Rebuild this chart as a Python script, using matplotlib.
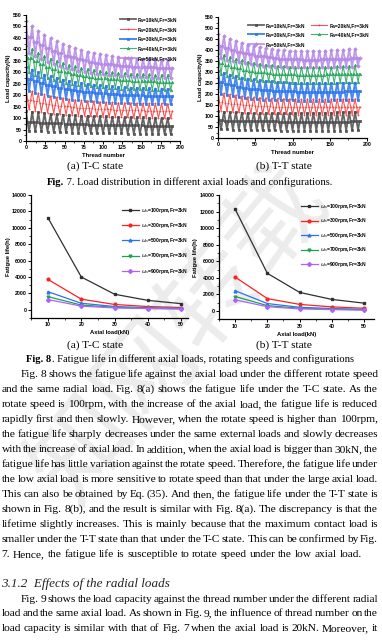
import numpy as np
import matplotlib

matplotlib.use("Agg")
import matplotlib.pyplot as plt
from matplotlib.ticker import MultipleLocator, AutoMinorLocator

W, H = 382, 640
SANS = "Liberation Sans"
SERIF = "Liberation Serif"

# ---------------- Fig. 7 data: load per ball, one cycle = high / mid / low ----------------
CYCLES = list(range(24))          # one oscillation every 8 threads
LOAD_LABELS = ["Fa=10kN,Fr=3kN", "Fa=20kN,Fr=3kN", "Fa=30kN,Fr=3kN",
               "Fa=40kN,Fr=3kN", "Fa=50kN,Fr=3kN"]

tc_high = [
    [132, 128, 125, 122, 119, 117, 115, 113, 112, 111, 110, 109, 108, 107, 106, 105, 104, 104, 103, 103, 102, 102, 101, 101],
    [228, 218, 210, 203, 197, 192, 188, 184, 181, 178, 176, 174, 172, 170, 169, 168, 167, 166, 166, 165, 165, 164, 164, 163],
    [325, 312, 300, 290, 282, 275, 268, 262, 257, 253, 249, 246, 243, 240, 238, 236, 234, 233, 232, 231, 230, 229, 229, 228],
    [420, 402, 386, 372, 360, 350, 341, 333, 326, 320, 315, 311, 307, 303, 300, 298, 296, 294, 293, 292, 291, 290, 290, 289],
    [522, 500, 480, 463, 448, 435, 424, 414, 405, 397, 390, 384, 379, 374, 370, 367, 364, 362, 360, 358, 357, 356, 355, 354],
]
tc_mid = [
    [82, 81, 80, 79, 78, 77, 76, 75, 74, 73, 72, 72, 71, 70, 70, 69, 69, 68, 68, 67, 67, 66, 66, 65],
    [180, 173, 167, 162, 158, 154, 151, 148, 146, 144, 142, 140, 139, 138, 137, 136, 135, 134, 134, 133, 133, 132, 132, 131],
    [272, 262, 253, 245, 238, 232, 227, 223, 219, 216, 213, 210, 208, 206, 204, 202, 201, 200, 199, 198, 197, 196, 196, 195],
    [362, 348, 336, 325, 315, 307, 300, 294, 289, 284, 280, 277, 274, 271, 269, 267, 265, 264, 262, 261, 260, 259, 258, 257],
    [452, 434, 418, 404, 392, 382, 373, 365, 358, 352, 347, 342, 338, 335, 332, 329, 327, 325, 323, 322, 321, 320, 319, 318],
]
tc_low = [
    [45, 43, 42, 41, 40, 39, 38, 37, 36, 36, 35, 35, 34, 34, 33, 33, 32, 32, 32, 31, 31, 31, 30, 30],
    [138, 132, 127, 123, 120, 117, 115, 113, 111, 110, 108, 107, 106, 105, 104, 103, 103, 102, 102, 101, 101, 100, 100, 100],
    [218, 210, 203, 197, 192, 188, 184, 180, 177, 175, 173, 171, 169, 168, 166, 165, 164, 163, 162, 162, 161, 161, 160, 160],
    [300, 290, 281, 273, 266, 260, 255, 250, 246, 243, 240, 237, 235, 233, 231, 229, 228, 227, 226, 225, 224, 223, 222, 222],
    [385, 370, 357, 346, 336, 327, 320, 313, 307, 302, 298, 294, 291, 288, 286, 284, 282, 280, 279, 278, 277, 276, 275, 275],
]

tt_high = [
    [121, 119, 117, 116, 115, 114, 113, 113, 112, 112, 112, 112, 112, 112, 113, 113, 114, 114, 115, 115, 116, 117, 118, 118],
    [210, 204, 199, 195, 191, 188, 186, 184, 182, 181, 180, 179, 178, 178, 177, 177, 177, 177, 177, 178, 178, 178, 179, 179],
    [305, 296, 288, 281, 275, 270, 266, 262, 259, 257, 255, 253, 252, 251, 250, 250, 250, 250, 250, 250, 251, 251, 252, 252],
    [388, 377, 368, 360, 353, 347, 342, 338, 334, 331, 328, 326, 324, 323, 322, 322, 322, 323, 324, 325, 326, 327, 329, 330],
    [475, 463, 452, 442, 433, 425, 418, 412, 407, 403, 400, 398, 396, 395, 395, 395, 395, 396, 397, 398, 400, 402, 404, 405],
]
tt_mid = [
    [80, 79, 79, 78, 78, 77, 77, 76, 76, 76, 75, 75, 75, 75, 75, 75, 75, 75, 75, 75, 75, 75, 76, 76],
    [165, 160, 156, 153, 150, 148, 146, 145, 144, 143, 142, 141, 141, 140, 140, 140, 140, 140, 140, 140, 141, 141, 141, 141],
    [255, 247, 240, 234, 229, 225, 222, 219, 217, 215, 214, 213, 212, 211, 211, 210, 210, 210, 210, 211, 211, 212, 212, 213],
    [340, 331, 323, 316, 310, 305, 301, 298, 295, 293, 291, 290, 289, 288, 288, 288, 288, 288, 289, 289, 290, 291, 292, 293],
    [420, 410, 401, 393, 386, 380, 375, 371, 367, 364, 361, 359, 358, 357, 356, 356, 356, 357, 358, 359, 360, 361, 363, 364],
]
tt_low = [
    [40, 39, 38, 37, 37, 36, 36, 35, 35, 35, 34, 34, 34, 34, 34, 34, 34, 34, 34, 34, 34, 34, 35, 35],
    [125, 121, 118, 116, 114, 112, 111, 110, 109, 108, 107, 107, 106, 106, 106, 105, 105, 105, 105, 105, 105, 106, 106, 106],
    [200, 194, 189, 185, 182, 179, 177, 175, 174, 173, 172, 171, 171, 170, 170, 170, 170, 170, 170, 171, 171, 171, 172, 172],
    [290, 283, 277, 272, 268, 264, 261, 259, 257, 255, 254, 253, 252, 251, 251, 251, 251, 251, 252, 252, 253, 253, 254, 255],
    [362, 355, 349, 344, 339, 335, 332, 329, 327, 325, 324, 323, 322, 321, 321, 321, 321, 321, 322, 322, 323, 324, 325, 326],
]

# ---------------- Fig. 8 data ----------------
AXIAL = [10, 20, 30, 40, 50]
SPEED_LABELS = [r"$\omega_s$=100rpm,Fr=3kN", r"$\omega_s$=300rpm,Fr=3kN",
                r"$\omega_s$=500rpm,Fr=3kN", r"$\omega_s$=700rpm,Fr=3kN",
                r"$\omega_s$=900rpm,Fr=3kN"]
life_tc = [
    [11200, 4000, 1900, 1150, 750],
    [3700, 1300, 650, 400, 280],
    [2200, 800, 400, 250, 180],
    [1600, 580, 300, 180, 130],
    [1250, 450, 230, 150, 100],
]
life_tt = [
    [12300, 4550, 2250, 1400, 950],
    [4100, 1500, 800, 500, 330],
    [2450, 900, 450, 300, 200],
    [1750, 650, 330, 220, 150],
    [1350, 520, 260, 170, 110],
]

COLORS7 = ["#4a4a4a", "#ff3535", "#2a74ec", "#24a35c", "#b487e6"]
LW7 = [1.3, 0.8, 1.4, 0.8, 1.3]
MK7 = ["s", "+", "s", "^", "D"]
COLORS8 = ["#303030", "#ff2020", "#2a74f0", "#20a050", "#b060ff"]
MK8 = ["s", "o", "^", "v", "D"]

TEXT_LINES = [
    "Fig. 8 shows the fatigue life against the axial load under the different rotate speed",
    "and the same radial load. Fig. 8(a) shows the fatigue life under the T-C state. As the",
    "rotate speed is 100rpm, with the increase of the axial load, the fatigue life is reduced",
    "rapidly first and then slowly. However, when the rotate speed is higher than 100rpm,",
    "the fatigue life sharply decreases under the same external loads and slowly decreases",
    "with the increase of axial load. In addition, when the axial load is bigger than 30kN, the",
    "fatigue life has little variation against the rotate speed. Therefore, the fatigue life under",
    "the low axial load is more sensitive to rotate speed than that under the large axial load.",
    "This can also be obtained by Eq. (35). And then, the fatigue life under the T-T state is",
    "shown in Fig. 8(b), and the result is similar with Fig. 8(a). The discrepancy is that the",
    "lifetime slightly increases. This is mainly because that the maximum contact load is",
    "smaller under the T-T state than that under the T-C state. This can be confirmed by Fig.",
    "7. Hence, the fatigue life is susceptible to rotate speed under the low axial load.",
]
HEADING = "3.1.2  Effects of the radial loads"
TEXT_LINES2 = [
    "Fig. 9 shows the load capacity against the thread number under the different radial",
    "load and the same axial load. As shown in Fig. 9, the influence of thread number on the",
    "load capacity is similar with that of Fig. 7 when the axial load is 20kN. Moreover, it",
]


def px_axes(fig, l, t, r, b):
    return fig.add_axes([l / W, 1 - b / H, (r - l) / W, (b - t) / H], facecolor="none")


def style(ax):
    for s in ("top", "right"):
        ax.spines[s].set_visible(False)
    for s in ("left", "bottom"):
        ax.spines[s].set_linewidth(0.9)
    ax.tick_params(which="major", direction="out", length=2.2, width=0.7,
                   labelsize=3.8, pad=1)
    ax.tick_params(which="minor", direction="out", length=1.2, width=0.5)
    for lab in ax.get_xticklabels() + ax.get_yticklabels():
        lab.set_fontweight("bold")
        lab.set_family(SANS)


def zigzag(hi, mid, lo):
    xs, ys = [], []
    for k in CYCLES:
        xs += [8 * k, 8 * k + 2, 8 * k + 4, 8 * k + 6]
        ys += [hi[k], mid[k], lo[k], mid[k]]
    return xs, ys


def fig7_panel(ax, hi_all, mid_all, lo_all, xstep):
    for i in range(5):
        xs, ys = zigzag(hi_all[i], mid_all[i], lo_all[i])
        ax.plot(xs, ys, color=COLORS7[i], lw=LW7[i], marker=MK7[i], ms=1.8,
                mew=0.6, alpha=0.85, label=LOAD_LABELS[i])
    ax.set_xlim(0, 200)
    ax.set_ylim(0, 550)
    ax.xaxis.set_major_locator(MultipleLocator(xstep))
    ax.yaxis.set_major_locator(MultipleLocator(50))
    ax.xaxis.set_minor_locator(AutoMinorLocator(2))
    ax.yaxis.set_minor_locator(AutoMinorLocator(2))
    ax.set_ylabel("Load capacity(N)", fontsize=4.2, fontweight="bold",
                  family=SANS, labelpad=1)
    ax.set_xlabel("Thread number", fontsize=4.2, fontweight="bold",
                  family=SANS, labelpad=2)
    style(ax)


def fig8_panel(ax, data, xlim):
    for i in range(5):
        ax.plot(AXIAL, data[i], color=COLORS8[i], lw=0.9, marker=MK8[i],
                ms=2.0, label=SPEED_LABELS[i])
    ax.set_xlim(*xlim)
    ax.set_ylim(-1000, 14000)
    ax.set_xticks(AXIAL)
    ax.set_yticks(range(0, 14001, 2000))
    ax.xaxis.set_minor_locator(AutoMinorLocator(2))
    ax.yaxis.set_minor_locator(AutoMinorLocator(2))
    ax.set_ylabel("Fatigue life(h)", fontsize=4.2, fontweight="bold",
                  family=SANS, labelpad=1)
    ax.set_xlabel("Axial load(kN)", fontsize=4.2, fontweight="bold",
                  family=SANS, labelpad=2)
    style(ax)


def word_widths(ax, rend, words, fs):
    ws = []
    for w in words:
        t = ax.text(0, 0, w, fontsize=fs, family=SERIF)
        ws.append(t.get_window_extent(rend).width)
        t.remove()
    return ws


def put_line(ax, rend, line, y, x0, x1, fs, justify=True):
    words = line.split(" ")
    ws = word_widths(ax, rend, words, fs)
    gap = (x1 - x0 - sum(ws)) / (len(words) - 1) if justify else fs * 0.34
    x = x0
    for w, wd in zip(words, ws):
        ax.text(x, y, w, fontsize=fs, family=SERIF, va="baseline", color="#000000")
        x += wd + gap


def caption(ax, rend, bold, rest, y, cx, fs):
    a = ax.text(0, y, bold, fontsize=fs, family=SERIF, fontweight="bold",
                va="baseline", color="#000000")
    b = ax.text(0, y, rest, fontsize=fs, family=SERIF, va="baseline",
                color="#000000")
    wa = a.get_window_extent(rend).width if bold else 0
    wb = b.get_window_extent(rend).width
    x0 = cx - (wa + wb) / 2
    a.set_x(x0)
    b.set_x(x0 + wa)


def build():
    fig = plt.figure(figsize=(W / 100, H / 100), dpi=100, facecolor="white")
    bg = fig.add_axes([0, 0, 1, 1])
    bg.set_xlim(0, W)
    bg.set_ylim(H, 0)
    bg.axis("off")
    rend = fig.canvas.get_renderer()

    # faint watermark behind everything
    bg.text(180, 335, "知网转载", fontsize=72, rotation=50, ha="center",
            va="center", color="#d6d6d6", alpha=0.45,
            family=["Noto Sans CJK SC", "DejaVu Sans"])

    # ---------------- Fig. 7 ----------------
    a7 = px_axes(fig, 26, 15, 180, 141)
    fig7_panel(a7, tc_high, tc_mid, tc_low, 25)
    a7.legend(loc="upper left", bbox_to_anchor=(0.58, 1.02), frameon=False,
              prop={"family": SANS, "weight": "bold", "size": 3.6},
              handlelength=3.2, labelspacing=0.95, handletextpad=0.4)

    b7 = px_axes(fig, 218, 17, 367, 138)
    fig7_panel(b7, tt_high, tt_mid, tt_low, 50)
    hs, ls = b7.get_legend_handles_labels()
    order = [0, 2, 4, 1, 3]
    b7.legend([hs[i] for i in order], [ls[i] for i in order],
              loc="upper left", bbox_to_anchor=(0.17, 0.99), frameon=False,
              ncol=2, prop={"family": SANS, "weight": "bold", "size": 3.6},
              handlelength=3.2, labelspacing=0.9, handletextpad=0.4,
              columnspacing=1.2)

    # ---------------- Fig. 8 ----------------
    a8 = px_axes(fig, 31.4, 195, 187.7, 318)
    fig8_panel(a8, life_tc, (5, 52))
    a8.legend(loc="upper left", bbox_to_anchor=(0.55, 0.95), frameon=False,
              prop={"family": SANS, "weight": "bold", "size": 3.6},
              handlelength=3.4, labelspacing=1.25, handletextpad=0.4)

    b8 = px_axes(fig, 219, 195, 373.7, 319.3)
    fig8_panel(b8, life_tt, (5, 53))
    b8.legend(loc="upper left", bbox_to_anchor=(0.5, 0.98), frameon=False,
              prop={"family": SANS, "weight": "bold", "size": 3.6},
              handlelength=3.4, labelspacing=1.1, handletextpad=0.4)

    # ---------------- body text ----------------
    # biggest font size where every justified line still keeps ~1.3 px word gaps
    g_min = 1.3
    cands = []
    for i, line in enumerate(TEXT_LINES[:-1] + TEXT_LINES2):
        words = line.split(" ")
        avail = 378 - (21 if i in (0, 12) else 1.5)
        s10 = sum(word_widths(bg, rend, words, 10))
        cands.append(10 * (avail - (len(words) - 1) * g_min) / s10)
    fs = min(cands)

    caption(bg, rend, "", "(a) T-C state", 169, 95, fs)
    caption(bg, rend, "", "(b) T-T state", 169, 284, fs)
    caption(bg, rend, "Fig.", " 7. Load distribution in different axial loads and configurations.",
            185, 190, fs * 0.92)
    caption(bg, rend, "", "(a) T-C state", 348, 95, fs)
    caption(bg, rend, "", "(b) T-T state", 348, 284, fs)
    caption(bg, rend, "Fig. 8", ". Fatigue life in different axial loads, rotating speeds and configurations",
            362, 190, fs * 0.92)

    for i, line in enumerate(TEXT_LINES):
        x0 = 21 if i == 0 else 1.5
        put_line(bg, rend, line, 376.8 + 15.0 * i, x0, 378, fs,
                 justify=(i < len(TEXT_LINES) - 1))
    bg.text(1.5, 587, HEADING, fontsize=fs * 1.15, family=SERIF,
            style="italic", va="baseline", color="#222222")
    for i, line in enumerate(TEXT_LINES2):
        x0 = 21 if i == 0 else 1.5
        put_line(bg, rend, line, 601.6 + 14.9 * i, x0, 378, fs)

    fig.savefig("out.png", dpi=100)
    plt.close(fig)


if __name__ == "__main__":
    build()
